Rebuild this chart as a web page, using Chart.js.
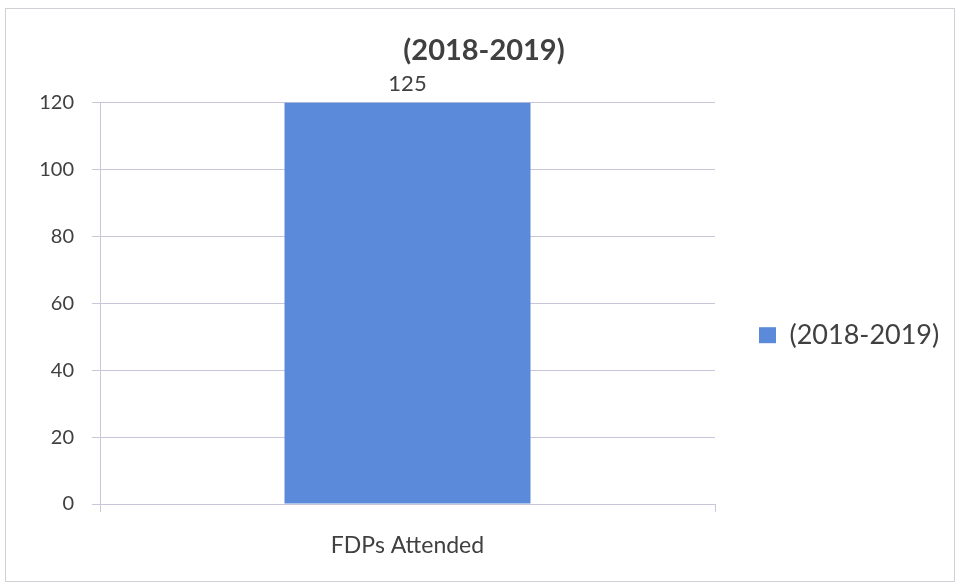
<!DOCTYPE html>
<html lang="en">

<head>
  <meta charset="UTF-8" />
  <title>FDPs Attended (2018-2019)</title>
  <script src="https://cdn.jsdelivr.net/npm/chart.js@4.4.0/dist/chart.umd.min.js"></script>
  <style>
    body {
      margin: 0;
      background: #fff;
    }

    .wrap {
      position: relative;
      width: 956px;
      height: 588px;
    }

    .frame {
      position: absolute;
      left: 5px;
      top: 8px;
      width: 950px;
      height: 574px;
      border: 1px solid #cfcfd6;
      box-sizing: border-box;
    }

    canvas {
      display: block;
    }
  </style>
</head>

<body>
  <div class="wrap">
    <div class="frame"></div>
    <canvas id="fdpChart" width="956" height="588"></canvas>
  </div>

  <script>
    const categories = ["FDPs Attended"];
    const seriesName = "(2018-2019)";
    const fdpCounts = [125];
    const yTicks = [0, 20, 40, 60, 80, 100, 120];

    const inkColor = "#404040";
    const gridColor = "#cac6da";
    const barColor = "#5a8ad9";

    // value written above each bar (kept inside the canvas when the bar runs past the axis)
    const barValueLabels = {
      id: "barValueLabels",
      afterDatasetsDraw(chart) {
        const ctx = chart.ctx;
        const area = chart.chartArea;
        ctx.save();
        ctx.font = "22px Lato";
        ctx.fillStyle = inkColor;
        ctx.textAlign = "center";
        ctx.textBaseline = "bottom";
        chart.getDatasetMeta(0).data.forEach((bar, i) => {
          const top = Math.max(bar.y, area.top);
          ctx.fillText(String(fdpCounts[i]), bar.x, top - 8);
        });
        ctx.restore();
      },
    };

    const config = {
      type: "bar",
      data: {
        labels: categories,
        datasets: [
          {
            label: seriesName,
            data: fdpCounts,
            backgroundColor: barColor,
            borderWidth: 0,
            categoryPercentage: 0.4,
            barPercentage: 1,
          },
        ],
      },
      options: {
        responsive: false,
        animation: false,
        layout: {
          padding: { left: 22, right: 10, top: 0, bottom: 0 },
        },
        plugins: {
          title: {
            display: true,
            text: "(2018-2019)",
            color: inkColor,
            font: { family: "Lato", size: 29, weight: "bold" },
            padding: { top: 33, bottom: 35 },
          },
          legend: {
            position: "right",
            title: { display: true, text: "", padding: 34 },
            labels: {
              color: inkColor,
              font: { family: "Lato", size: 27 },
              boxWidth: 17,
              boxHeight: 16,
              padding: 44,
            },
          },
          tooltip: { enabled: false },
        },
        scales: {
          x: {
            afterFit(axis) {
              axis.height = 84;
            },
            grid: {
              offset: true,
              drawOnChartArea: false,
              drawTicks: true,
              tickLength: 8,
              color: gridColor,
            },
            border: { color: gridColor },
            ticks: {
              color: inkColor,
              font: { family: "Lato", size: 23 },
              padding: 20,
            },
          },
          y: {
            min: 0,
            max: 120,
            afterBuildTicks(axis) {
              axis.ticks = yTicks.map((v) => ({ value: v }));
            },
            afterFit(axis) {
              axis.width = 78;
            },
            grid: {
              color: gridColor,
              tickLength: 8,
            },
            border: { color: gridColor },
            ticks: {
              color: inkColor,
              font: { family: "Lato", size: 20 },
              padding: 18,
            },
          },
        },
      },
      plugins: [barValueLabels],
    };

    const fdpChart = new Chart(
      document.getElementById("fdpChart").getContext("2d"),
      config
    );
  </script>
</body>

</html>
